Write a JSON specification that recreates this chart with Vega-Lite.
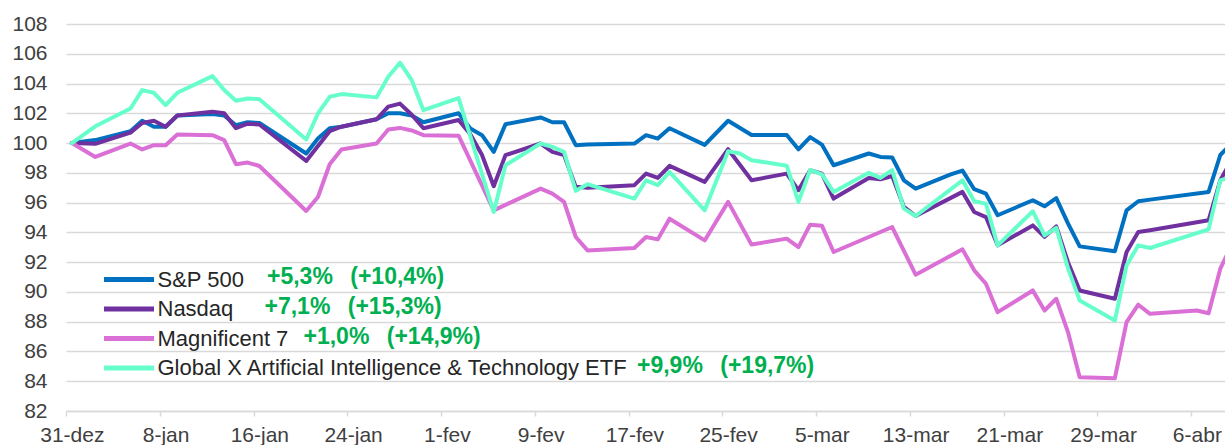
{
  "$schema": "https://vega.github.io/schema/vega-lite/v6.json",
  "width": 1159,
  "height": 387,
  "autosize": "none",
  "padding": {"left": 66, "top": 24, "right": 0, "bottom": 34},
  "background": "white",
  "config": {"view": {"stroke": null}, "font": "Liberation Sans", "axisY": {"labelOverlap": false}, "axis": {"labelOverlap": false}},
  "datasets": {
    "prices": [
      {"d":"2025-12-31","sp":100,"nq":100,"m7":100,"gx":100},
      {"d":"2026-01-02","sp":100.2,"nq":99.95,"m7":99.07,"gx":101.13},
      {"d":"2026-01-05","sp":100.8,"nq":100.7,"m7":99.97,"gx":102.32},
      {"d":"2026-01-06","sp":101.5,"nq":101.35,"m7":99.57,"gx":103.56},
      {"d":"2026-01-07","sp":101.1,"nq":101.5,"m7":99.86,"gx":103.38},
      {"d":"2026-01-08","sp":101.1,"nq":101.1,"m7":99.86,"gx":102.55},
      {"d":"2026-01-09","sp":101.85,"nq":101.85,"m7":100.58,"gx":103.38},
      {"d":"2026-01-12","sp":101.95,"nq":102.1,"m7":100.53,"gx":104.5},
      {"d":"2026-01-13","sp":101.85,"nq":102.0,"m7":100.2,"gx":103.56},
      {"d":"2026-01-14","sp":101.2,"nq":101.0,"m7":98.58,"gx":102.84},
      {"d":"2026-01-15","sp":101.4,"nq":101.3,"m7":98.69,"gx":103.0},
      {"d":"2026-01-16","sp":101.35,"nq":101.25,"m7":98.46,"gx":102.95},
      {"d":"2026-01-20","sp":99.3,"nq":98.8,"m7":95.44,"gx":100.24},
      {"d":"2026-01-21","sp":100.3,"nq":99.8,"m7":96.38,"gx":101.99},
      {"d":"2026-01-22","sp":101.0,"nq":100.8,"m7":98.58,"gx":103.11},
      {"d":"2026-01-23","sp":101.1,"nq":101.1,"m7":99.57,"gx":103.29},
      {"d":"2026-01-26","sp":101.6,"nq":101.6,"m7":99.97,"gx":103.07},
      {"d":"2026-01-27","sp":102.0,"nq":102.45,"m7":100.91,"gx":104.45},
      {"d":"2026-01-28","sp":102.0,"nq":102.65,"m7":101.02,"gx":105.4},
      {"d":"2026-01-29","sp":101.85,"nq":101.9,"m7":100.85,"gx":104.23},
      {"d":"2026-01-30","sp":101.4,"nq":101.0,"m7":100.53,"gx":102.21},
      {"d":"2026-02-02","sp":102.0,"nq":101.55,"m7":100.5,"gx":103.02},
      {"d":"2026-02-03","sp":100.98,"nq":100.6,"m7":null,"gx":null},
      {"d":"2026-02-04","sp":100.53,"nq":99.2,"m7":null,"gx":null},
      {"d":"2026-02-05","sp":99.41,"nq":97.1,"m7":95.48,"gx":95.37},
      {"d":"2026-02-06","sp":101.27,"nq":99.19,"m7":null,"gx":98.51},
      {"d":"2026-02-09","sp":101.72,"nq":99.97,"m7":96.94,"gx":99.97},
      {"d":"2026-02-10","sp":101.4,"nq":99.41,"m7":96.6,"gx":99.74},
      {"d":"2026-02-11","sp":101.4,"nq":99.19,"m7":96.05,"gx":99.41},
      {"d":"2026-02-12","sp":99.86,"nq":97.06,"m7":93.69,"gx":96.79},
      {"d":"2026-02-13","sp":99.9,"nq":97.0,"m7":92.79,"gx":97.24},
      {"d":"2026-02-17","sp":99.97,"nq":97.17,"m7":92.95,"gx":96.27},
      {"d":"2026-02-18","sp":100.53,"nq":97.95,"m7":93.69,"gx":97.5},
      {"d":"2026-02-19","sp":100.3,"nq":97.66,"m7":93.53,"gx":97.17},
      {"d":"2026-02-20","sp":101.0,"nq":98.47,"m7":94.92,"gx":98.06},
      {"d":"2026-02-23","sp":99.88,"nq":97.39,"m7":93.46,"gx":95.48},
      {"d":"2026-02-25","sp":101.5,"nq":99.59,"m7":96.05,"gx":99.45},
      {"d":"2026-02-26","sp":null,"nq":null,"m7":null,"gx":99.3},
      {"d":"2026-02-27","sp":100.54,"nq":97.5,"m7":93.18,"gx":98.85},
      {"d":"2026-03-02","sp":100.54,"nq":97.95,"m7":93.58,"gx":98.48},
      {"d":"2026-03-03","sp":99.58,"nq":96.83,"m7":93.01,"gx":96.05},
      {"d":"2026-03-04","sp":100.4,"nq":98.18,"m7":94.52,"gx":98.2},
      {"d":"2026-03-05","sp":99.9,"nq":97.95,"m7":94.45,"gx":97.9},
      {"d":"2026-03-06","sp":98.51,"nq":96.27,"m7":92.68,"gx":96.72},
      {"d":"2026-03-09","sp":99.3,"nq":97.66,"m7":null,"gx":98.0},
      {"d":"2026-03-10","sp":99.07,"nq":97.57,"m7":null,"gx":97.66},
      {"d":"2026-03-11","sp":99.03,"nq":97.79,"m7":94.36,"gx":98.18},
      {"d":"2026-03-12","sp":97.5,"nq":95.71,"m7":null,"gx":95.6},
      {"d":"2026-03-13","sp":96.94,"nq":95.1,"m7":91.16,"gx":95.1},
      {"d":"2026-03-16","sp":97.9,"nq":null,"m7":null,"gx":null},
      {"d":"2026-03-17","sp":98.15,"nq":96.72,"m7":92.86,"gx":97.5},
      {"d":"2026-03-18","sp":96.9,"nq":95.37,"m7":91.45,"gx":96.09},
      {"d":"2026-03-19","sp":96.6,"nq":95.03,"m7":90.55,"gx":95.93},
      {"d":"2026-03-20","sp":95.15,"nq":93.13,"m7":88.64,"gx":93.13},
      {"d":"2026-03-23","sp":96.16,"nq":94.47,"m7":90.1,"gx":95.42},
      {"d":"2026-03-24","sp":95.75,"nq":93.7,"m7":88.75,"gx":93.8},
      {"d":"2026-03-25","sp":96.3,"nq":94.4,"m7":89.54,"gx":94.3},
      {"d":"2026-03-26","sp":94.6,"nq":92.0,"m7":87.3,"gx":91.6},
      {"d":"2026-03-27","sp":93.06,"nq":90.1,"m7":84.27,"gx":89.43},
      {"d":"2026-03-30","sp":92.73,"nq":89.54,"m7":84.2,"gx":88.08},
      {"d":"2026-03-31","sp":95.48,"nq":92.68,"m7":87.97,"gx":91.78},
      {"d":"2026-04-01","sp":96.09,"nq":94.02,"m7":89.14,"gx":93.13},
      {"d":"2026-04-02","sp":96.2,"nq":94.14,"m7":88.53,"gx":92.95},
      {"d":"2026-04-06","sp":null,"nq":null,"m7":88.75,"gx":null},
      {"d":"2026-04-07","sp":96.72,"nq":94.81,"m7":88.57,"gx":94.2},
      {"d":"2026-04-08","sp":99.2,"nq":97.5,"m7":91.56,"gx":97.5},
      {"d":"2026-04-09","sp":100.0,"nq":98.9,"m7":93.2,"gx":97.75}
    ],
    "notes": [
      {"s":"sp","note":"+5,3%\u00a0\u00a0\u2009(+10,4%)"},
      {"s":"nq","note":"+7,1%\u00a0\u00a0\u2009(+15,3%)"},
      {"s":"m7","note":"+1,0%\u00a0\u00a0\u2009(+14,9%)"},
      {"s":"gx","note":"+9,9%\u00a0\u00a0\u2009(+19,7%)"}
    ]
  },
  "layer": [
    {
      "data": {"name": "prices"},
      "transform": [{"fold": ["sp", "nq", "m7", "gx"], "as": ["s", "v"]}],
      "mark": {"type": "line", "strokeWidth": 4, "strokeJoin": "round", "strokeCap": "round", "clip": true, "invalid": "filter"},
      "encoding": {
        "x": {
          "field": "d", "type": "temporal",
          "scale": {"type": "utc", "domain": [
            {"year": 2025, "month": 12, "date": 30, "hours": 12, "utc": true},
            {"year": 2026, "month": 4, "date": 8, "hours": 9, "minutes": 36, "utc": true}
          ]},
          "axis": {
            "title": null,
            "tickCount": 30,
            "values": [
              {"year": 2025, "month": 12, "date": 31, "utc": true},
              {"year": 2026, "month": 1, "date": 8, "utc": true},
              {"year": 2026, "month": 1, "date": 16, "utc": true},
              {"year": 2026, "month": 1, "date": 24, "utc": true},
              {"year": 2026, "month": 2, "date": 1, "utc": true},
              {"year": 2026, "month": 2, "date": 9, "utc": true},
              {"year": 2026, "month": 2, "date": 17, "utc": true},
              {"year": 2026, "month": 2, "date": 25, "utc": true},
              {"year": 2026, "month": 3, "date": 5, "utc": true},
              {"year": 2026, "month": 3, "date": 13, "utc": true},
              {"year": 2026, "month": 3, "date": 21, "utc": true},
              {"year": 2026, "month": 3, "date": 29, "utc": true},
              {"year": 2026, "month": 4, "date": 6, "utc": true}
            ],
            "labelExpr": "utcdate(datum.value) + '-' + ['jan','fev','mar','abr','mai','jun','jul','ago','set','out','nov','dez'][utcmonth(datum.value)]",
            "grid": false,
            "domain": true, "domainColor": "#D9D9D9", "domainWidth": 1.5,
            "ticks": true, "tickColor": "#D9D9D9", "tickWidth": 1.5, "tickSize": 5,
            "tickOffset": -5.86, "labelOffset": 5.86,
            "labelFontSize": 21, "labelColor": "#404040", "labelPadding": 8,
            "labelFlush": false, "labelOverlap": false, "labelBound": false
          }
        },
        "y": {
          "field": "v", "type": "quantitative",
          "scale": {"domain": [82, 108], "nice": false, "zero": false},
          "axis": {
            "title": null,
            "tickCount": 30,
            "values": [82, 84, 86, 88, 90, 92, 94, 96, 98, 100, 102, 104, 106, 108],
            "domain": false, "ticks": false,
            "grid": true, "gridColor": "#D9D9D9", "gridWidth": 1.5,
            "labelFontSize": 21, "labelColor": "#404040", "labelPadding": 19,
            "labelOverlap": false, "labelFlush": false
          }
        },
        "color": {
          "field": "s", "type": "nominal",
          "scale": {"domain": ["sp", "nq", "m7", "gx"], "range": ["#0070C0", "#7030A0", "#DA70D6", "#66FFCC"]},
          "legend": {
            "title": null,
            "orient": "none", "legendX": 65.5, "legendY": 243,
            "padding": 0,
            "symbolType": "M-4,0L1,0", "symbolSize": 400, "symbolStrokeWidth": 5,
            "labelFontSize": 22, "labelColor": "#262626", "labelOffset": 1, "labelLimit": 0,
            "rowPadding": 5.5,
            "labelExpr": "{'sp': 'S&P 500', 'nq': 'Nasdaq', 'm7': 'Magnificent 7', 'gx': 'Global X Artificial Intelligence & Technology ETF'}[datum.label]"
          }
        }
      }
    },
    {
      "data": {"name": "notes"},
      "transform": [{"filter": "datum.s === 'sp'"}],
      "mark": {"type": "text", "align": "left", "baseline": "middle", "fontSize": 23, "fontWeight": "bold", "color": "#00B050"},
      "encoding": {
        "x": {"datum": {"year": 2026, "month": 1, "date": 16, "hours": 15, "minutes": 39, "utc": true}, "type": "temporal"},
        "y": {"datum": 91},
        "text": {"field": "note"}
      }
    },
    {
      "data": {"name": "notes"},
      "transform": [{"filter": "datum.s === 'nq'"}],
      "mark": {"type": "text", "align": "left", "baseline": "middle", "fontSize": 23, "fontWeight": "bold", "color": "#00B050"},
      "encoding": {
        "x": {"datum": {"year": 2026, "month": 1, "date": 16, "hours": 10, "minutes": 32, "utc": true}, "type": "temporal"},
        "y": {"datum": 89},
        "text": {"field": "note"}
      }
    },
    {
      "data": {"name": "notes"},
      "transform": [{"filter": "datum.s === 'm7'"}],
      "mark": {"type": "text", "align": "left", "baseline": "middle", "fontSize": 23, "fontWeight": "bold", "color": "#00B050"},
      "encoding": {
        "x": {"datum": {"year": 2026, "month": 1, "date": 19, "hours": 18, "minutes": 24, "utc": true}, "type": "temporal"},
        "y": {"datum": 87},
        "text": {"field": "note"}
      }
    },
    {
      "data": {"name": "notes"},
      "transform": [{"filter": "datum.s === 'gx'"}],
      "mark": {"type": "text", "align": "left", "baseline": "middle", "fontSize": 23, "fontWeight": "bold", "color": "#00B050"},
      "encoding": {
        "x": {"datum": {"year": 2026, "month": 2, "date": 17, "hours": 5, "minutes": 24, "utc": true}, "type": "temporal"},
        "y": {"datum": 85},
        "text": {"field": "note"}
      }
    }
  ]
}
